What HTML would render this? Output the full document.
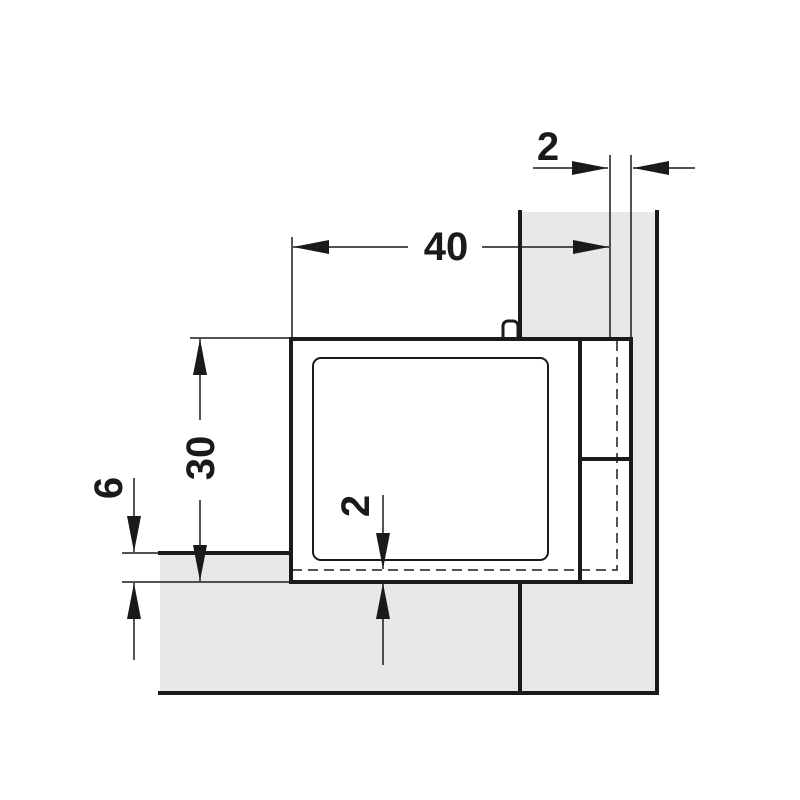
<!DOCTYPE html>
<html><head><style>html,body{margin:0;padding:0;background:#fff}svg{display:block}</style></head><body>
<svg width="800" height="800" viewBox="0 0 800 800" xmlns="http://www.w3.org/2000/svg">
<defs>
<marker id="a" viewBox="0 0 36 14" refX="36" refY="7" markerWidth="36" markerHeight="14" markerUnits="userSpaceOnUse" orient="auto"><path d="M0,0 L36,7 L0,14 z" fill="#1a1a1a"/></marker>
</defs>
<g fill="#e8e8ea">
<rect x="520" y="212" width="137" height="481"/>
<rect x="160" y="553" width="497" height="140"/>
</g>
<rect x="290" y="338" width="341" height="244" fill="#fff"/>
<g stroke="#1a1a1a" fill="none" stroke-linecap="square">
<line x1="160" y1="693" x2="657" y2="693" stroke-width="4"/>
<line x1="657" y1="212" x2="657" y2="693" stroke-width="4"/>
<line x1="520" y1="212" x2="520" y2="337" stroke-width="4"/>
<line x1="520" y1="583" x2="520" y2="693" stroke-width="4"/>
<line x1="160" y1="553" x2="290" y2="553" stroke-width="4"/>
<path d="M503,338 V326 a5,5 0 0 1 5,-5 h5 a5,5 0 0 1 5,5 V338" stroke-width="3"/>
<rect x="291" y="339" width="340" height="243" stroke-width="4"/>
<line x1="580" y1="339" x2="580" y2="582" stroke-width="4"/>
<line x1="580" y1="459" x2="631" y2="459" stroke-width="4"/>
<rect x="313" y="358" width="235" height="202" rx="8" stroke-width="2"/>
<path d="M292,570 H617 V340" stroke-width="1.5" stroke-dasharray="10,6" stroke-linecap="butt"/>
<g stroke-width="1.5" stroke-linecap="butt">
<line x1="610" y1="155" x2="610" y2="340"/>
<line x1="631" y1="155" x2="631" y2="340"/>
<line x1="292" y1="237" x2="292" y2="338"/>
<line x1="190" y1="338" x2="290" y2="338"/>
<line x1="122" y1="582" x2="290" y2="582"/>
<line x1="122" y1="553" x2="160" y2="553"/>
<line x1="533" y1="168" x2="608" y2="168" marker-end="url(#a)"/>
<line x1="695" y1="168" x2="633" y2="168" marker-end="url(#a)"/>
<line x1="408" y1="247" x2="293" y2="247" marker-end="url(#a)"/>
<line x1="482" y1="247" x2="609" y2="247" marker-end="url(#a)"/>
<line x1="200" y1="420" x2="200" y2="339" marker-end="url(#a)"/>
<line x1="200" y1="500" x2="200" y2="581" marker-end="url(#a)"/>
<line x1="134" y1="478" x2="134" y2="552" marker-end="url(#a)"/>
<line x1="134" y1="660" x2="134" y2="583" marker-end="url(#a)"/>
<line x1="383" y1="495" x2="383" y2="569" marker-end="url(#a)"/>
<line x1="383" y1="665" x2="383" y2="583" marker-end="url(#a)"/>
</g>
</g>
<g font-family="Liberation Sans, sans-serif" font-weight="bold" font-size="40" fill="#1a1a1a" text-anchor="middle">
<text x="548" y="160">2</text>
<text x="446" y="260">40</text>
<text transform="translate(214,458) rotate(-90)">30</text>
<text transform="translate(122,488) rotate(-90)">6</text>
<text transform="translate(369,506) rotate(-90)">2</text>
</g>
</svg>
</body></html>
